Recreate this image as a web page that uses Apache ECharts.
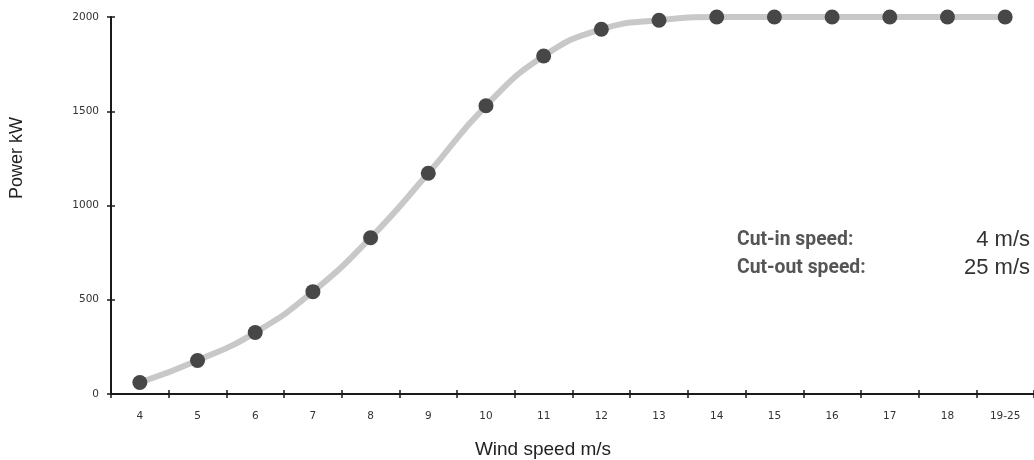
<!DOCTYPE html>
<html>
<head>
<meta charset="utf-8">
<script src="https://cdn.jsdelivr.net/npm/echarts@6/dist/echarts.min.js"></script>
<style>
html,body{margin:0;padding:0;background:#fff;}
#c{width:1034px;height:460px;}
</style>
</head>
<body>
<div id="c"></div>
<script>
const categories = ['4','5','6','7','8','9','10','11','12','13','14','15','16','17','18','19-25'];
const powerKW = [61, 178, 326, 543, 829, 1171, 1529, 1793, 1935, 1983, 2000, 2000, 2000, 2000, 2000, 2000];
const yTicks = [0, 500, 1000, 1500, 2000];
const infoLabels = ['Cut-in speed:', 'Cut-out speed:'];
const infoValues = ['4 m/s', '25 m/s'];

const chart = echarts.init(document.getElementById('c'), null, {renderer:'canvas'});
const axisColor = '#1a1a1a';
const tickFont = {color:'#333', fontSize:10.5, fontFamily:'DejaVu Sans'};
const labelFont = 'bold 21px Roboto, "Liberation Sans", Arial, sans-serif';
const valueFont = '22px "Liberation Sans", Arial, sans-serif';

const option = {
  animation:false,
  grid:{left:111, top:17, width:925, height:377, containLabel:false},
  xAxis:[
    {type:'category', data:categories, boundaryGap:true,
     axisLine:{show:true, lineStyle:{color:axisColor, width:2}},
     axisTick:{show:true, alignWithLabel:false, length:4, lineStyle:{color:axisColor, width:1.5}},
     axisLabel:Object.assign({margin:17, interval:0}, tickFont),
     splitLine:{show:false}},
    {type:'category', data:categories, boundaryGap:true, position:'bottom',
     axisLine:{show:false},
     axisTick:{show:true, inside:true, alignWithLabel:false, length:4, lineStyle:{color:axisColor, width:1.5}},
     axisLabel:{show:false}, splitLine:{show:false}}
  ],
  yAxis:[
    {type:'value', min:yTicks[0], max:yTicks[yTicks.length-1], interval:500,
     axisLine:{show:true, lineStyle:{color:axisColor, width:2}},
     axisTick:{show:true, length:4, lineStyle:{color:axisColor, width:1.5}},
     axisLabel:Object.assign({margin:12, formatter:function(v){return String(v);}}, tickFont),
     splitLine:{show:false}},
    {type:'value', min:yTicks[0], max:yTicks[yTicks.length-1], interval:500, position:'left',
     axisLine:{show:false},
     axisTick:{show:true, inside:true, length:4, lineStyle:{color:axisColor, width:1.5}},
     axisLabel:{show:false}, splitLine:{show:false}}
  ],
  series:[{
    type:'line', xAxisIndex:0, yAxisIndex:0, data:powerKW,
    smooth:true,
    lineStyle:{color:'#c8c8c8', width:6},
    symbol:'circle', symbolSize:15,
    itemStyle:{color:'#474747'},
    z:3
  }],
  graphic:[
    {type:'text', x:17, y:158, rotation:Math.PI/2,
     style:{text:'Power kW', fill:'#222', font:'18px "Liberation Sans", Arial, sans-serif', align:'center', verticalAlign:'middle'}},
    {type:'text', x:543, y:450,
     style:{text:'Wind speed m/s', fill:'#222', font:'19px "Liberation Sans", Arial, sans-serif', align:'center', verticalAlign:'middle'}},
    {type:'text', x:737, y:240, scaleX:0.92,
     style:{text:infoLabels[0], fill:'#555', font:labelFont, align:'left', verticalAlign:'middle'}},
    {type:'text', x:737, y:268, scaleX:0.92,
     style:{text:infoLabels[1], fill:'#555', font:labelFont, align:'left', verticalAlign:'middle'}},
    {type:'text', x:1030, y:240,
     style:{text:infoValues[0], fill:'#333', font:valueFont, align:'right', verticalAlign:'middle'}},
    {type:'text', x:1030, y:268,
     style:{text:infoValues[1], fill:'#333', font:valueFont, align:'right', verticalAlign:'middle'}}
  ]
};
chart.setOption(option);
</script>
</body>
</html>
